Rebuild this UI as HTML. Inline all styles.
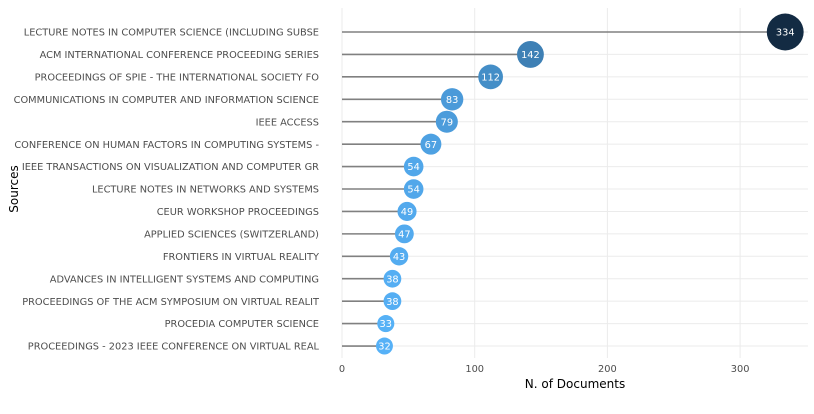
<!DOCTYPE html>
<html><head><meta charset="utf-8"><style>
body{margin:0;background:#fff;font-family:"DejaVu Sans","Liberation Sans",sans-serif;}
svg text{font-family:"DejaVu Sans","Liberation Sans",sans-serif;}
</style></head><body>
<svg id="c" width="814" height="410"></svg>
<script>
const sources=["LECTURE NOTES IN COMPUTER SCIENCE (INCLUDING SUBSE","ACM INTERNATIONAL CONFERENCE PROCEEDING SERIES","PROCEEDINGS OF SPIE - THE INTERNATIONAL SOCIETY FO","COMMUNICATIONS IN COMPUTER AND INFORMATION SCIENCE","IEEE ACCESS","CONFERENCE ON HUMAN FACTORS IN COMPUTING SYSTEMS -","IEEE TRANSACTIONS ON VISUALIZATION AND COMPUTER GR","LECTURE NOTES IN NETWORKS AND SYSTEMS","CEUR WORKSHOP PROCEEDINGS","APPLIED SCIENCES (SWITZERLAND)","FRONTIERS IN VIRTUAL REALITY","ADVANCES IN INTELLIGENT SYSTEMS AND COMPUTING","PROCEEDINGS OF THE ACM SYMPOSIUM ON VIRTUAL REALIT","PROCEDIA COMPUTER SCIENCE","PROCEEDINGS - 2023 IEEE CONFERENCE ON VIRTUAL REAL"];
const docs=[334,142,112,83,79,67,54,54,49,47,43,38,38,33,32];
const xTicks=[0,100,200,300];
const NS="http://www.w3.org/2000/svg";
const svg=document.getElementById('c');
function el(t,a,p){const e=document.createElementNS(NS,t);for(const k in a)e.setAttribute(k,a[k]);(p||svg).appendChild(e);return e;}
const x=v=>342+v*1.327;
const y=i=>32+i*22.43;
const minV=Math.min(...docs),maxV=Math.max(...docs);
function col(v){const f=(v-minV)/(maxV-minV);const a=[86,177,247],b=[19,43,67];return 'rgb('+a.map((c,i)=>Math.round(c+(b[i]-c)*f)).join(',')+')';}
const r=v=>4+0.79*Math.sqrt(v);
for(const t of xTicks){const g=el('line',{x1:x(t),x2:x(t),y1:8,y2:358,stroke:'#ebebeb','stroke-width':1});

const tx=el('text',{x:x(t),y:372,'font-size':9.8,fill:'#4d4d4d','text-anchor':'middle'});tx.textContent=t;
}
sources.forEach((s,i)=>{
const g=el('line',{x1:342,x2:808,y1:y(i),y2:y(i),stroke:'#ebebeb','stroke-width':1});

const t=el('text',{x:319,y:y(i)+3.6,'font-size':9.8,fill:'#4d4d4d','text-anchor':'end'});t.textContent=s;

});
docs.forEach((v,i)=>{
const l=el('line',{x1:x(0),x2:x(v),y1:y(i),y2:y(i),stroke:'#808080','stroke-width':1.6});

const c=el('circle',{cx:x(v),cy:y(i),r:r(v),fill:col(v)});

const t=el('text',{x:x(v),y:y(i)+3.6,'font-size':9.8,fill:'#fff','text-anchor':'middle'});t.textContent=v;

});
const xt=el('text',{x:575,y:388,'font-size':12,fill:'#000','text-anchor':'middle'});xt.textContent='N. of Documents';

const yt=el('text',{x:0,y:0,'font-size':12,fill:'#000','text-anchor':'middle',transform:'translate(18,189) rotate(-90)'});yt.textContent='Sources';

</script>
</body></html>
